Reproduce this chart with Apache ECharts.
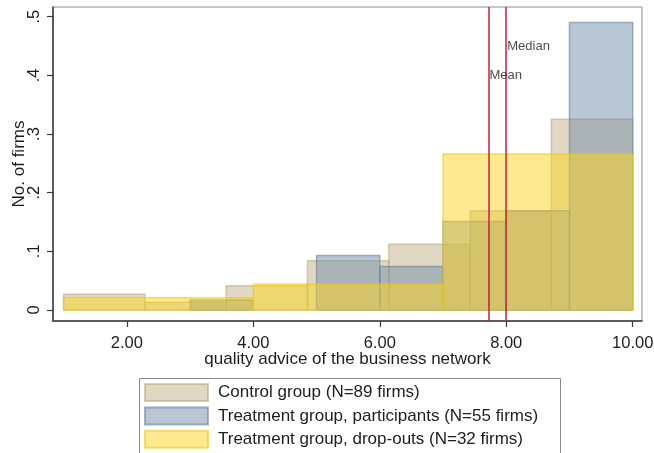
<!DOCTYPE html>
<html>
<head>
<meta charset="utf-8">
<script src="https://cdn.jsdelivr.net/npm/echarts@6/dist/echarts.min.js"></script>
<style>
  html, body { margin: 0; padding: 0; background: #ffffff; }
  #chart { width: 654px; height: 453px; }
</style>
</head>
<body>
<div id="chart"></div>
<script>
// Histogram bins: edges and bar heights per group
const groupNames = [
  'Control group (N=89 firms)',
  'Treatment group, participants (N=55 firms)',
  'Treatment group, drop-outs (N=32 firms)'
];
const controlEdges = [1, 2.286, 3.571, 4.857, 6.143, 7.429, 8.714, 10];
const controlHeights = [0.027, 0.013, 0.0415, 0.084, 0.112, 0.169, 0.325];
const participantEdges = [3, 4, 5, 6, 7, 8, 9, 10];
const participantHeights = [0.017, 0, 0.093, 0.074, 0.151, 0.169, 0.49];
const dropoutEdges = [1, 4, 7, 10];
const dropoutHeights = [0.021, 0.044, 0.266];

// Reference lines and their captions
const meanValue = 7.72;
const medianValue = 8.0;
const refLabels = [[meanValue, 0.40, 'Mean'], [medianValue, 0.45, 'Median']];

// Axis ticks
const xTicks = [2, 4, 6, 8, 10];
const xTickLabels = ['2.00', '4.00', '6.00', '8.00', '10.00'];
const yTicks = [0, 0.1, 0.2, 0.3, 0.4, 0.5];
const yTickLabels = ['0', '.1', '.2', '.3', '.4', '.5'];

const FONT = 'Arial, "Liberation Sans", Helvetica, sans-serif';
const TEXT = '#1e1e1e';

function binRows(edges, heights) {
  const rows = [];
  for (let i = 0; i < heights.length; i++) rows.push([edges[i], edges[i + 1], heights[i]]);
  return rows;
}

function histSeries(name, edges, heights, fill, stroke) {
  return {
    name: name,
    type: 'custom',
    data: binRows(edges, heights),
    encode: { x: [0, 1], y: 2 },
    itemStyle: { color: fill, borderColor: stroke, borderWidth: 1.5 },
    renderItem: function (params, api) {
      const h = api.value(2);
      if (!h) return null;
      const p0 = api.coord([api.value(0), 0]);
      const p1 = api.coord([api.value(1), h]);
      return {
        type: 'rect',
        shape: { x: p0[0], y: p1[1], width: p1[0] - p0[0], height: p0[1] - p1[1] },
        style: { fill: fill, stroke: stroke, lineWidth: 1.5 }
      };
    }
  };
}

const chart = echarts.init(document.getElementById('chart'), null, { renderer: 'canvas' });

chart.setOption({
  backgroundColor: '#ffffff',
  animation: false,
  grid: {
    left: 53, right: 12, top: 7, bottom: 132,
    containLabel: false,
    outerBoundsMode: 'none',
    show: true, borderColor: '#8a8a8a', borderWidth: 1
  },
  // legend frame, open at the bottom edge of the canvas
  graphic: [{
    type: 'rect',
    left: 137, top: 376,
    shape: { width: 421, height: 100 },
    style: { fill: 'none', stroke: '#8a8a8a', lineWidth: 1 },
    silent: true
  }],
  xAxis: {
    type: 'value',
    min: 0.832, max: 10.147,
    name: 'quality advice of the business network',
    nameLocation: 'middle',
    nameGap: 30,
    nameMoveOverlap: false,
    nameTextStyle: { fontFamily: FONT, fontSize: 17, color: TEXT },
    axisLine: { show: true, onZero: false, lineStyle: { color: '#3a3a3a', width: 1.5 } },
    axisTick: { show: true, length: 6, customValues: xTicks, lineStyle: { color: '#3a3a3a', width: 1.2 } },
    axisLabel: {
      customValues: xTicks,
      margin: 14,
      fontFamily: FONT, fontSize: 16.5, color: TEXT,
      formatter: function (v) { return xTickLabels[xTicks.indexOf(v)]; }
    },
    splitLine: { show: false }
  },
  yAxis: {
    type: 'value',
    min: -0.0188, max: 0.5165,
    name: 'No. of firms',
    nameLocation: 'middle',
    nameRotate: 90,
    nameGap: 25,
    nameMoveOverlap: false,
    nameTextStyle: { fontFamily: FONT, fontSize: 17, color: TEXT },
    axisLine: { show: true, onZero: false, lineStyle: { color: '#3a3a3a', width: 1.5 } },
    axisTick: { show: true, length: 6, customValues: yTicks, lineStyle: { color: '#3a3a3a', width: 1.2 } },
    axisLabel: {
      customValues: yTicks,
      rotate: 90,
      margin: 10,
      fontFamily: FONT, fontSize: 16.5, color: TEXT,
      formatter: function (v) { return yTickLabels[Math.round(v * 10)]; }
    },
    splitLine: { show: false }
  },
  legend: {
    data: groupNames,
    orient: 'vertical',
    left: 144, top: 383,
    width: 410, height: 90,
    padding: 0,
    itemWidth: 63, itemHeight: 17, itemGap: 4.4,
    icon: 'rect',
    textStyle: { fontFamily: FONT, fontSize: 17, color: TEXT, lineHeight: 17, padding: [0, 0, 0, 5] }
  },
  series: [
    histSeries(groupNames[0], controlEdges, controlHeights, 'rgba(194,178,136,0.5)', 'rgba(180,164,120,0.55)'),
    histSeries(groupNames[1], participantEdges, participantHeights, 'rgba(115,143,170,0.5)', 'rgba(100,130,160,0.6)'),
    histSeries(groupNames[2], dropoutEdges, dropoutHeights, 'rgba(251,211,31,0.5)', 'rgba(240,200,20,0.6)'),
    {
      name: 'refs',
      type: 'scatter',
      data: refLabels,
      symbolSize: 0,
      silent: true,
      label: {
        show: true, position: 'right', distance: 1,
        fontFamily: FONT, fontSize: 13, color: TEXT,
        formatter: function (p) { return p.data[2]; }
      },
      markLine: {
        silent: true,
        symbol: 'none',
        label: { show: false },
        lineStyle: { color: '#cf1a3e', width: 1.5, type: 'solid' },
        data: [{ xAxis: meanValue }, { xAxis: medianValue }]
      },
      z: 5
    }
  ]
});
</script>
</body>
</html>
